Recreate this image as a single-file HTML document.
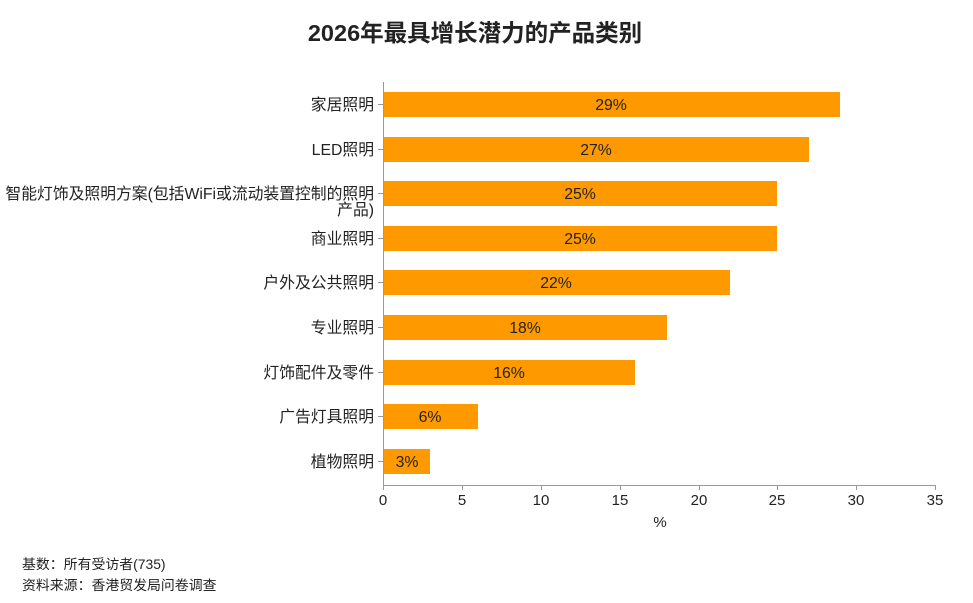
<!DOCTYPE html>
<html><head><meta charset="utf-8"><style>
body{margin:0;background:#fff;}
text{font-family:"Liberation Sans","Noto Sans CJK SC",sans-serif;}
</style></head><body>
<svg width="973" height="598" xmlns="http://www.w3.org/2000/svg">
<text x="475" y="41" text-anchor="middle" font-size="23.5" font-weight="bold" fill="#222">2026年最具增长潜力的产品类别</text>
<g font-size="15.8" fill="#222">
<rect x="383" y="92" width="457" height="25" fill="#FF9900"/><text x="611" y="110" text-anchor="middle">29%</text><text x="374" y="110" text-anchor="end">家居照明</text>
<rect x="383" y="137" width="426" height="25" fill="#FF9900"/><text x="596" y="155" text-anchor="middle">27%</text><text x="374" y="155" text-anchor="end">LED照明</text>
<rect x="383" y="181" width="394" height="25" fill="#FF9900"/><text x="580" y="199" text-anchor="middle">25%</text><text x="374" y="199" text-anchor="end">智能灯饰及照明方案(包括WiFi或流动装置控制的照明</text><text x="374" y="215" text-anchor="end">产品)</text>
<rect x="383" y="226" width="394" height="25" fill="#FF9900"/><text x="580" y="244" text-anchor="middle">25%</text><text x="374" y="244" text-anchor="end">商业照明</text>
<rect x="383" y="270" width="347" height="25" fill="#FF9900"/><text x="556" y="288" text-anchor="middle">22%</text><text x="374" y="288" text-anchor="end">户外及公共照明</text>
<rect x="383" y="315" width="284" height="25" fill="#FF9900"/><text x="525" y="333" text-anchor="middle">18%</text><text x="374" y="333" text-anchor="end">专业照明</text>
<rect x="383" y="360" width="252" height="25" fill="#FF9900"/><text x="509" y="378" text-anchor="middle">16%</text><text x="374" y="378" text-anchor="end">灯饰配件及零件</text>
<rect x="383" y="404" width="95" height="25" fill="#FF9900"/><text x="430" y="422" text-anchor="middle">6%</text><text x="374" y="422" text-anchor="end">广告灯具照明</text>
<rect x="383" y="449" width="47" height="25" fill="#FF9900"/><text x="407" y="467" text-anchor="middle">3%</text><text x="374" y="467" text-anchor="end">植物照明</text>
</g>
<g stroke="#999" stroke-width="1">
<line x1="383.5" y1="82" x2="383.5" y2="485"/>
<line x1="383" y1="485.5" x2="936" y2="485.5"/>
<line x1="378" y1="104.5" x2="383" y2="104.5"/><line x1="378" y1="149.5" x2="383" y2="149.5"/><line x1="378" y1="193.5" x2="383" y2="193.5"/><line x1="378" y1="238.5" x2="383" y2="238.5"/><line x1="378" y1="282.5" x2="383" y2="282.5"/><line x1="378" y1="327.5" x2="383" y2="327.5"/><line x1="378" y1="372.5" x2="383" y2="372.5"/><line x1="378" y1="416.5" x2="383" y2="416.5"/><line x1="378" y1="461.5" x2="383" y2="461.5"/>
<line x1="383.5" y1="485" x2="383.5" y2="490"/><line x1="462.5" y1="485" x2="462.5" y2="490"/><line x1="541.5" y1="485" x2="541.5" y2="490"/><line x1="620.5" y1="485" x2="620.5" y2="490"/><line x1="699.5" y1="485" x2="699.5" y2="490"/><line x1="777.5" y1="485" x2="777.5" y2="490"/><line x1="856.5" y1="485" x2="856.5" y2="490"/><line x1="935.5" y1="485" x2="935.5" y2="490"/>
</g>
<g font-size="15" fill="#222" text-anchor="middle">
<text x="383" y="505">0</text><text x="462" y="505">5</text><text x="541" y="505">10</text><text x="620" y="505">15</text><text x="699" y="505">20</text><text x="777" y="505">25</text><text x="856" y="505">30</text><text x="935" y="505">35</text>
<text x="660" y="527">%</text>
</g>
<g font-size="13.9" fill="#222">
<text x="22" y="569">基数：所有受访者(735)</text>
<text x="22" y="590">资料来源：香港贸发局问卷调查</text>
</g>
</svg>
</body></html>
